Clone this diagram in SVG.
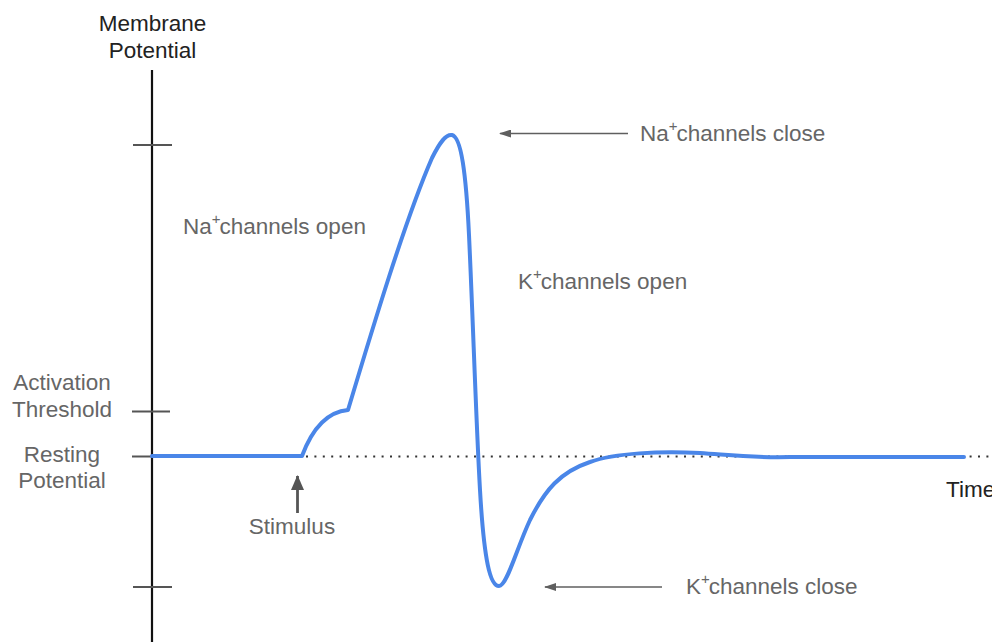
<svg xmlns="http://www.w3.org/2000/svg" width="992" height="642" viewBox="0 0 992 642">
  <style>
    text { font-family: "Liberation Sans", Arial, sans-serif; font-size: 22.5px; fill: #666666; }
    .dark { fill: #222222; }
    .sup { font-size: 15px; }
    .axis { stroke: #111111; stroke-width: 2.2; fill: none; }
    .tick { stroke: #555555; stroke-width: 2; fill: none; }
    .pointer { stroke: #5f5f5f; stroke-width: 1.6; fill: none; }
    .trace { stroke: #4a86e8; stroke-width: 4; fill: none; stroke-linejoin: round; stroke-linecap: round; }
    .baseline { stroke: #333333; stroke-width: 2; stroke-dasharray: 2 6.4; fill: none; }
  </style>
  <defs>
    <marker id="head" viewBox="0 0 12 8" refX="11" refY="4" markerWidth="12" markerHeight="8" orient="auto" markerUnits="userSpaceOnUse">
      <path d="M12,4 L0,0 L0,8 Z" fill="#5f5f5f"/>
    </marker>
    <marker id="headBig" viewBox="0 0 15 13" refX="14" refY="6.5" markerWidth="15" markerHeight="13" orient="auto" markerUnits="userSpaceOnUse">
      <path d="M15,6.5 L0,0 L0,13 Z" fill="#555555"/>
    </marker>
  </defs>

  <!-- axes and ticks -->
  <g id="axes">
    <line class="axis" x1="152" y1="70" x2="152" y2="642"/>
    <line class="tick" x1="133" y1="145" x2="172" y2="145"/>
    <line class="tick" x1="132" y1="411.5" x2="170" y2="411.5"/>
    <line class="tick" x1="132" y1="456.5" x2="152" y2="456.5"/>
    <line class="tick" x1="133" y1="587" x2="172" y2="587"/>
  </g>

  <!-- axis labels -->
  <g id="label-y">
    <text class="dark" x="152.5" y="31" text-anchor="middle">Membrane</text>
    <text class="dark" x="152.5" y="58" text-anchor="middle">Potential</text>
  </g>
  <g id="label-threshold">
    <text x="62" y="390" text-anchor="middle">Activation</text>
    <text x="62" y="417" text-anchor="middle">Threshold</text>
  </g>
  <g id="label-resting">
    <text x="62" y="462" text-anchor="middle">Resting</text>
    <text x="62" y="488" text-anchor="middle">Potential</text>
  </g>
  <g id="label-time">
    <text class="dark" x="946" y="497">Time</text>
  </g>

  <!-- resting level reference -->
  <g id="resting-line">
    <line class="baseline" x1="306" y1="456.5" x2="992" y2="456.5"/>
  </g>

  <!-- action potential trace -->
  <g id="trace">
    <path class="trace" d="M152,456 H302
      C311,432 325,412 348,410
      C372,330 405,220 432,158
      C440,142 446,134 452,135
      C461,137 466,172 469,235
      C473,320 476,420 480,490
      C484,560 490,586 499,586
      C507,586 516,550 530,520
      C545,490 560,472 590,462
      C615,453 660,451 700,453
      C730,455 750,458 790,457
      H964"/>
  </g>

  <!-- annotations with pointers -->
  <g id="connectors">
    <line class="pointer" x1="628" y1="133.5" x2="500" y2="133.5" marker-end="url(#head)"/>
    <line class="pointer" x1="662" y1="587" x2="545" y2="587" marker-end="url(#head)"/>
    <line x1="297.5" y1="513" x2="297.5" y2="476" stroke="#555555" stroke-width="2.8" marker-end="url(#headBig)"/>
  </g>

  <g id="na-close">
    <text x="640" y="141">Na<tspan class="sup" dy="-10">+</tspan><tspan dy="10" dx="-1">channels close</tspan></text>
  </g>
  <g id="na-open">
    <text x="183" y="234">Na<tspan class="sup" dy="-10">+</tspan><tspan dy="10" dx="-1">channels open</tspan></text>
  </g>
  <g id="k-open">
    <text x="518" y="289">K<tspan class="sup" dy="-10">+</tspan><tspan dy="10" dx="-1">channels open</tspan></text>
  </g>
  <g id="k-close">
    <text x="686" y="594">K<tspan class="sup" dy="-10">+</tspan><tspan dy="10" dx="-1">channels close</tspan></text>
  </g>
  <g id="stimulus">
    <text x="292" y="534" text-anchor="middle">Stimulus</text>
  </g>
</svg>
